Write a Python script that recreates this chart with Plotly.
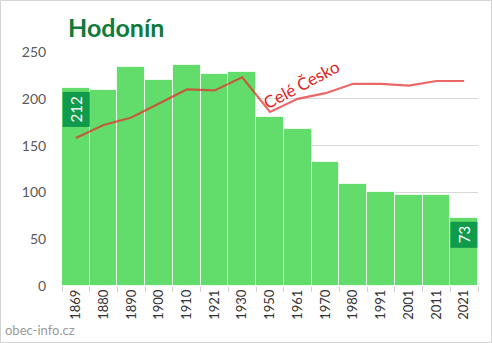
import plotly.graph_objects as go

years = ["1869", "1880", "1890", "1900", "1910", "1921", "1930", "1950",
         "1961", "1970", "1980", "1991", "2001", "2011", "2021"]
hodonin = [212, 209, 234, 220, 236, 227, 229, 181, 168, 132, 109, 100, 97, 97, 73]
cele_cesko = [158, 172, 180, 195, 210, 209, 223, 186, 200, 206, 216, 216, 214, 219, 219]
yticks = [0, 50, 100, 150, 200, 250]

W, H = 492, 343
L, R, T, B = 62, 14, 52, 57
pw, ph = W - L - R, H - T - B

fig = go.Figure()
fig.add_trace(go.Bar(
    x=years, y=hodonin, marker=dict(color="#62DC6A",
                                    line=dict(color="rgba(255,255,255,0.75)", width=1)),
    width=1.0, showlegend=False, hoverinfo="skip"))
fig.add_trace(go.Scatter(
    x=years, y=cele_cesko, mode="lines",
    line=dict(color="rgba(228,45,45,0.72)", width=2.2),
    showlegend=False, hoverinfo="skip"))

for i in (0, len(years) - 1):
    fig.add_annotation(x=i, y=hodonin[i], text=str(hodonin[i]), textangle=-90,
                       showarrow=False, yanchor="top", yshift=-4,
                       bgcolor="#109A4C", borderpad=4,
                       font=dict(family="Lato", size=15, color="white"))

fig.add_annotation(x=(301 - L) / pw, y=(T + ph - 53) / ph, xref="paper", yref="paper",
                   text="Celé Česko", textangle=-28, showarrow=False,
                   font=dict(family="Lato", size=17, color="#E02424"))

fig.add_annotation(x=-(L - 3) / pw, y=-(330 - T - ph) / ph, xref="paper", yref="paper",
                   xanchor="left", yanchor="middle", text="obec-info.cz", showarrow=False,
                   font=dict(family="Lato", size=13, color="#9a9a9a"))

fig.add_shape(type="rect", xref="paper", yref="paper",
              x0=-(L - 0.5) / pw, x1=(pw + R - 0.5) / pw,
              y0=-(B - 0.5) / ph, y1=(ph + T - 0.5) / ph,
              line=dict(color="#d4d4d4", width=1))

fig.update_layout(
    width=W, height=H, margin=dict(l=L, r=R, t=T, b=B),
    paper_bgcolor="white", plot_bgcolor="white",
    bargap=0,
    title=dict(text="<b>Hodonín</b>", x=68 / W, xanchor="left", y=1 - 28 / H,
               yanchor="middle", font=dict(family="Lato", size=25, color="#0F7A3A")),
    xaxis=dict(type="category", tickangle=-90, ticks="outside", ticklen=5,
               tickcolor="#d0d0d0", tickson="boundaries", showgrid=False,
               showline=False, range=[-0.5, len(years) - 0.5],
               tickfont=dict(family="Lato", size=13, color="#333333")),
    yaxis=dict(range=[0, 250], tickvals=yticks, showgrid=True, gridcolor="#d9d9d9",
               zeroline=False, ticks="outside", ticklen=12, tickcolor="rgba(0,0,0,0)",
               tickfont=dict(family="Lato", size=14, color="#595959")),
)

fig.write_html("out.html")
